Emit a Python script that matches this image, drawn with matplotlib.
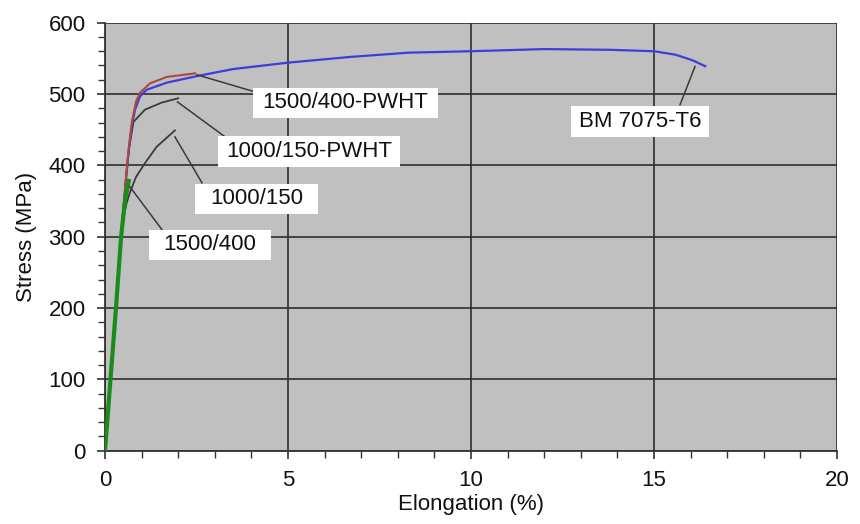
import matplotlib
matplotlib.use("Agg")
import matplotlib.pyplot as plt
from matplotlib.ticker import MultipleLocator

plt.rcParams['font.family'] = ['Liberation Sans', 'DejaVu Sans']

# ---- data ----
bm_x = [0, 0.15, 0.30, 0.44, 0.57, 0.64, 0.73, 0.82, 0.96, 1.14, 1.69, 2.5, 3.5, 5.0,
        6.7, 8.3, 10.0, 12.0, 13.8, 15.0, 15.6, 16.07, 16.4]
bm_y = [0, 100, 200, 300, 380, 417, 454, 478, 497, 506, 516, 525, 535, 544,
        552, 558, 560, 563, 562, 560, 555, 547, 539]

p1500_pwht_x = [0, 0.15, 0.30, 0.44, 0.57, 0.64, 0.73, 0.85, 0.96, 1.23, 1.69, 2.46]
p1500_pwht_y = [0, 100, 200, 300, 380, 420, 460, 490, 502, 515, 524, 529]

p1000_pwht_x = [0, 0.15, 0.30, 0.44, 0.57, 0.66, 0.78, 1.09, 1.55, 2.0]
p1000_pwht_y = [0, 100, 200, 300, 380, 425, 461, 478, 488, 494]

p1000_x = [0, 0.15, 0.30, 0.44, 0.52, 0.59, 0.68, 0.85, 1.09, 1.41, 1.91]
p1000_y = [0, 100, 200, 300, 330, 347, 362, 384, 403, 426, 449]

p1500_x = [0, 0.15, 0.30, 0.44, 0.55, 0.66]
p1500_y = [0, 100, 200, 300, 352, 381]

labels = ["1500/400-PWHT", "1000/150-PWHT", "1000/150", "1500/400", "BM 7075-T6"]
label_pos = [(6.57, 487.5), (5.57, 419), (4.14, 353), (2.87, 288.5), (14.62, 461.7)]
leader_from = [(2.51, 527), (1.98, 489), (1.91, 440), (0.68, 370), (16.12, 538.6)]
leader_to = [(4.10, 503), (3.28, 440), (2.65, 375.5), (1.56, 309.6), (15.71, 484.8)]
label_hpad = [0.42, 0.36, 0.66, 0.66, 0.36]

xticks = [0, 5, 10, 15, 20]
yticks = [0, 100, 200, 300, 400, 500, 600]

# ---- figure ----
fig = plt.figure(figsize=(8.6, 5.24), dpi=100)
ax = fig.add_axes([105/860, 1 - 450.7/524, (837-105)/860, (450.7-22.7)/524])
ax.set_facecolor('#c0c0c0')

ax.plot(p1000_x, p1000_y, color='#3a3a3a', lw=1.3, zorder=3)
ax.plot(p1000_pwht_x, p1000_pwht_y, color='#3a3a3a', lw=1.3, zorder=3)
ax.plot(bm_x, bm_y, color='#3d3ddc', lw=1.6, zorder=4)
ax.plot(p1500_pwht_x, p1500_pwht_y, color='#b0473a', lw=1.5, zorder=5)
ax.plot(p1500_x, p1500_y, color='#1a8c1a', lw=3.0, zorder=6, solid_capstyle='butt')

for lab, pos, a, b, hp in zip(labels, label_pos, leader_from, leader_to, label_hpad):
    ax.plot([a[0], b[0]], [a[1], b[1]], color='#3a3a3a', lw=1.1, zorder=7)
    ax.text(pos[0], pos[1], lab, fontsize=16, ha='center', va='center', color='#111111',
            zorder=8,
            bbox=dict(boxstyle=f'square,pad={hp}', facecolor='white', edgecolor='none',
                      mutation_aspect=0.22 / hp))

ax.set_xlim(0, 20)
ax.set_ylim(0, 600)
ax.set_xticks(xticks)
ax.set_yticks(yticks)
ax.xaxis.set_minor_locator(MultipleLocator(1))
ax.yaxis.set_minor_locator(MultipleLocator(20))
ax.grid(True, which='major', color='#2e2e2e', lw=1.2, zorder=1)
ax.set_axisbelow(True)

for s in ['top', 'right']:
    ax.spines[s].set_visible(False)
for s in ['left', 'bottom']:
    ax.spines[s].set_color('#333333')
    ax.spines[s].set_linewidth(1.3)

ax.tick_params(which='both', direction='out', colors='#333333', labelcolor='#111111',
               labelsize=16)
ax.tick_params(which='major', length=6, width=1.2, pad=8)
ax.tick_params(which='minor', length=5, width=1.0)

ax.set_xlabel('Elongation (%)', fontsize=16, color='#111111', labelpad=2)
ax.set_ylabel('Stress (MPa)', fontsize=16, color='#111111', labelpad=8)

fig.savefig('out.png', dpi=100, facecolor='white')
